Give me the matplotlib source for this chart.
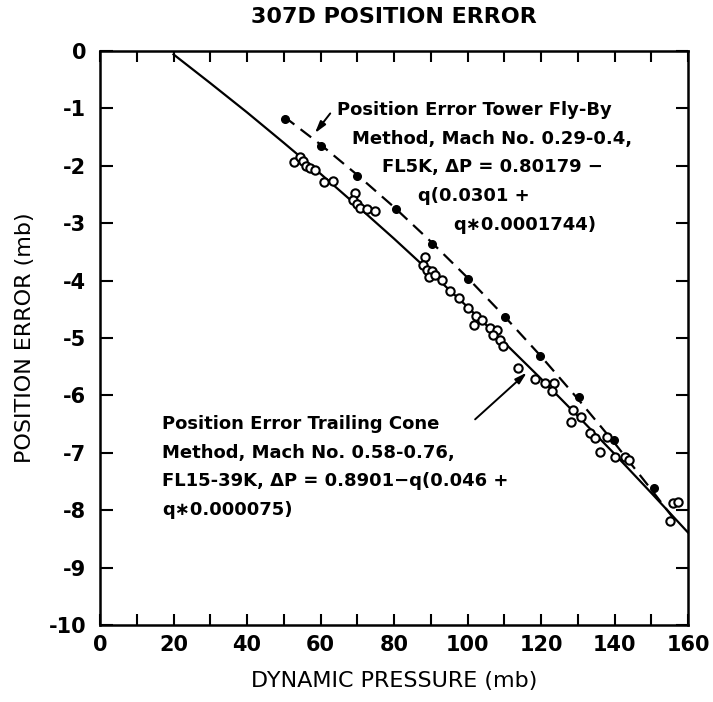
import matplotlib
matplotlib.use("Agg")

import matplotlib.pyplot as plt

plt.rcParams["font.family"] = ["DejaVu Sans"]
plt.rcParams["axes.unicode_minus"] = False

# fitted curves
solid_q = [20, 30, 40, 50, 60, 70, 80, 90, 100, 110, 120, 130, 140, 150, 160]
solid_pe = [-0.06, -0.56, -1.07, -1.60, -2.14, -2.70, -3.27, -3.86, -4.46,
            -5.08, -5.71, -6.36, -7.02, -7.70, -8.39]

dash_q = [50, 60, 70, 80, 90, 100, 110, 120, 130, 140, 150, 156]
dash_pe = [-1.14, -1.63, -2.16, -2.72, -3.32, -3.95, -4.62, -5.32, -6.06,
           -6.83, -7.64, -8.14]

# tower fly-by points (filled)
flyby_q = [50.3, 60.1, 70.0, 80.5, 90.2, 100.2, 110.2, 119.7, 130.2, 139.9, 150.7]
flyby_pe = [-1.18, -1.66, -2.18, -2.75, -3.36, -3.98, -4.63, -5.32, -6.02, -6.78, -7.62]

# trailing cone points (open)
cone_q = [52.8, 54.4, 55.3, 56.1, 57.0, 58.5, 61.0, 63.3, 69.4, 68.8, 70.0, 70.7,
          72.6, 74.8, 88.4, 87.8, 88.9, 90.3, 89.6, 91.2, 93.0, 95.2, 97.8, 100.2,
          102.3, 103.9, 101.8, 106.1, 107.9, 107.0, 108.8, 109.7, 113.8, 118.4,
          121.1, 123.4, 122.9, 128.8, 130.8, 128.2, 133.2, 134.7, 136.1, 138.0,
          140.1, 142.9, 144.0, 156.0, 157.4, 155.1]
cone_pe = [-1.93, -1.85, -1.91, -2.00, -2.04, -2.08, -2.29, -2.27, -2.48, -2.59,
           -2.66, -2.73, -2.76, -2.79, -3.59, -3.72, -3.82, -3.84, -3.94, -3.90,
           -3.99, -4.18, -4.31, -4.47, -4.61, -4.68, -4.77, -4.83, -4.86, -4.94,
           -5.03, -5.14, -5.53, -5.72, -5.78, -5.78, -5.92, -6.26, -6.37, -6.47,
           -6.66, -6.74, -6.98, -6.72, -7.07, -7.08, -7.13, -7.88, -7.86, -8.19]

x_ticks = [0, 20, 40, 60, 80, 100, 120, 140, 160]
y_ticks = [0, -1, -2, -3, -4, -5, -6, -7, -8, -9, -10]

top_note = ["Position Error Tower Fly-By",
            "Method, Mach No. 0.29-0.4,",
            "FL5K, \u0394P = 0.80179 \u2212",
            "q(0.0301 +",
            "q\u22170.0001744)"]
bottom_note = ["Position Error Trailing Cone",
               "Method, Mach No. 0.58-0.76,",
               "FL15-39K, \u0394P = 0.8901\u2212q(0.046 +",
               "q\u22170.000075)"]

fig = plt.figure(figsize=(7.13, 7.02), dpi=100)
ax = fig.add_axes([0.1403, 0.1097, 0.8247, 0.8177])

ax.plot(solid_q, solid_pe, color="black", lw=1.6)
ax.plot(dash_q, dash_pe, color="black", lw=1.6, dashes=(6, 3.5))
ax.plot(flyby_q, flyby_pe, "o", color="black", ms=5.5)
ax.plot(cone_q, cone_pe, "o", mfc="white", mec="black", mew=1.5, ms=6)

ax.set_xlim(0, 160)
ax.set_ylim(-10, 0)
ax.set_xticks(x_ticks)
ax.set_xticks(range(10, 160, 20), minor=True)
ax.set_yticks(y_ticks)
ax.set_xticklabels([str(v) for v in x_ticks], fontsize=15, fontweight="bold")
ax.set_yticklabels([str(v) for v in y_ticks], fontsize=15, fontweight="bold")
ax.tick_params(axis="both", which="both", direction="in", top=True, right=True,
               width=1.5)
ax.tick_params(axis="x", which="both", length=8, pad=7)
ax.tick_params(axis="y", length=9, pad=10)
for s in ax.spines.values():
    s.set_linewidth(1.8)

ax.set_title("307D POSITION ERROR", fontsize=16, fontweight="bold", pad=20)
ax.set_xlabel("DYNAMIC PRESSURE (mb)", fontsize=16, labelpad=12)
ax.set_ylabel("POSITION ERROR (mb)", fontsize=16, labelpad=10)

# label text, one line at a time like the hand lettering
top_pos = [(64.5, -1.02), (68.6, -1.53), (76.7, -2.02), (86.5, -2.52), (96.1, -3.03)]
for line, (x, y) in zip(top_note, top_pos):
    ax.text(x, y, line, fontsize=13, fontweight="bold", ha="left", va="center")
for i, line in enumerate(bottom_note):
    ax.text(16.9, -6.5 - 0.5 * i, line, fontsize=13, fontweight="bold",
            ha="left", va="center")

arrow = dict(arrowstyle="-|>,head_length=0.7,head_width=0.2", color="black", lw=1.4)
ax.annotate("", xy=(58.0, -1.47), xytext=(63.1, -1.05), arrowprops=arrow)
ax.annotate("", xy=(116.7, -5.57), xytext=(101.5, -6.45), arrowprops=arrow)

fig.savefig("out.png", dpi=100)
